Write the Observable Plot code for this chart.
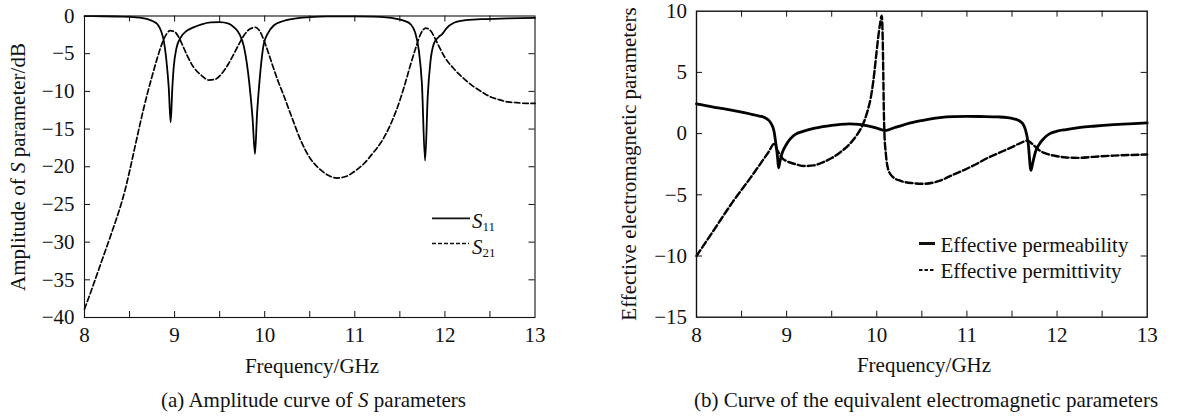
<!DOCTYPE html>
<html><head><meta charset="utf-8">
<script src="https://cdn.jsdelivr.net/npm/d3@7"></script>
<script src="https://cdn.jsdelivr.net/npm/@observablehq/plot@0.6"></script>
<style>
body{margin:0;background:#fff;}
#wrap{position:relative;width:1178px;height:416px;overflow:hidden;background:#fff;font-family:"Liberation Serif","Times New Roman",serif;}
#left,#right{position:absolute;top:0;}
#left{left:0;} #right{left:589px;}
#overlay{position:absolute;left:0;top:0;pointer-events:none;}
#overlay text{font-family:"Liberation Serif","Times New Roman",serif;font-size:21px;fill:#111;}
</style></head><body>
<div id="wrap"><div id="left"></div><div id="right"></div>
<svg id="overlay" width="1178" height="416">
  <text transform="translate(24.5,167) rotate(-90)" text-anchor="middle">Amplitude of <tspan font-style="italic">S</tspan> parameter/dB</text>
  <text x="312" y="373" text-anchor="middle">Frequency/GHz</text>
  <text x="313.5" y="407" text-anchor="middle">(a) Amplitude curve of <tspan font-style="italic">S</tspan> parameters</text>
  <line x1="432" x2="470" y1="218.3" y2="218.3" stroke="#111" stroke-width="1.8"/>
  <text x="472" y="228"><tspan font-style="italic">S</tspan><tspan font-size="13" dy="3">11</tspan></text>
  <line x1="432" x2="469" y1="243.5" y2="243.5" stroke="#111" stroke-width="1.7" stroke-dasharray="4,2"/>
  <text x="472" y="253.5"><tspan font-style="italic">S</tspan><tspan font-size="13" dy="3">21</tspan></text>

  <text transform="translate(636,164) rotate(-90)" text-anchor="middle">Effective electromagnetic parameters</text>
  <text x="924" y="372" text-anchor="middle">Frequency/GHz</text>
  <text x="926" y="407" text-anchor="middle">(b) Curve of the equivalent electromagnetic parameters</text>
  <line x1="919" x2="935" y1="243.5" y2="243.5" stroke="#111" stroke-width="3"/>
  <text x="940.5" y="252.3">Effective permeability</text>
  <line x1="919" x2="935" y1="270" y2="270" stroke="#111" stroke-width="2.2" stroke-dasharray="3.5,2"/>
  <text x="940.5" y="278.3">Effective permittivity</text>
</svg></div>
<script>
// ---- data (a): S parameters, dB vs GHz ----
const s11Freq = [8.0,8.2,8.4,8.55,8.7,8.76,8.81,8.85,8.88,8.91,8.935,8.956,8.975,8.99,9.02,9.07,9.13,9.21,9.3,9.4,9.5,9.6,9.66,9.72,9.77,9.83,9.865,9.892,9.915,9.94,9.99,10.04,10.1,10.2,10.3,10.5,10.7,11.0,11.2,11.35,11.45,11.55,11.62,11.67,11.71,11.745,11.78,11.81,11.84,11.88,11.93,11.97,12.02,12.1,12.2,12.4,12.7,13.0];
const s11Db   = [-0.02,-0.03,-0.07,-0.15,-0.4,-0.7,-1.1,-2.0,-3.3,-6.0,-9.5,-14.1,-9.5,-6.8,-4.3,-2.8,-2.0,-1.5,-1.1,-0.85,-0.8,-1.0,-1.5,-2.4,-4.1,-9.0,-13.5,-18.3,-13,-9.0,-3.7,-2.2,-1.26,-0.7,-0.4,-0.15,-0.06,-0.05,-0.08,-0.18,-0.35,-0.65,-1.1,-2.2,-4.5,-9.0,-19.2,-10.5,-6.0,-3.6,-2.8,-2.4,-1.6,-0.9,-0.6,-0.42,-0.32,-0.25];
const s21Freq = [8.0,8.1,8.2,8.3,8.4,8.45,8.5,8.55,8.6,8.65,8.7,8.75,8.8,8.85,8.9,8.95,9.0,9.05,9.1,9.15,9.2,9.3,9.38,9.45,9.52,9.6,9.66,9.72,9.78,9.84,9.9,9.95,10.0,10.05,10.1,10.15,10.2,10.3,10.4,10.5,10.6,10.7,10.8,10.9,11.0,11.1,11.2,11.3,11.4,11.5,11.57,11.62,11.68,11.73,11.79,11.85,11.9,11.95,12.0,12.1,12.2,12.3,12.4,12.5,12.6,12.7,12.8,12.9,13.0];
const s21Db   = [-38.9,-35.6,-32.2,-28.8,-25.2,-23.1,-20.6,-17.9,-15.2,-12.6,-10.2,-8.0,-5.9,-4.0,-2.6,-1.95,-2.1,-2.9,-4.2,-5.5,-6.6,-7.9,-8.5,-8.4,-7.7,-6.3,-5.0,-3.6,-2.4,-1.7,-1.5,-2.1,-3.5,-5.2,-7.0,-8.7,-10.2,-13.4,-16.5,-18.8,-20.2,-21.1,-21.5,-21.3,-20.6,-19.6,-18.2,-16.6,-14.3,-11.2,-8.5,-6.4,-4.1,-2.4,-1.6,-2.1,-3.2,-4.4,-5.5,-7.0,-8.2,-9.2,-10.0,-10.7,-11.1,-11.4,-11.5,-11.6,-11.6];

// ---- data (b): effective parameters vs GHz ----
const muFreq  = [8.0,8.2,8.4,8.5,8.6,8.7,8.76,8.8,8.83,8.86,8.88,8.9,8.91,8.925,8.95,9.0,9.04,9.1,9.2,9.3,9.4,9.5,9.6,9.7,9.8,9.9,10.0,10.09,10.2,10.3,10.4,10.5,10.6,10.7,10.85,11.0,11.2,11.35,11.45,11.52,11.58,11.62,11.65,11.68,11.71,11.73,11.76,11.8,11.86,11.92,12.0,12.1,12.26,12.4,12.63,12.8,13.0];
const muVal   = [2.43,2.15,1.9,1.76,1.6,1.43,1.3,1.1,0.8,0.2,-0.8,-2.0,-2.8,-2.3,-1.6,-0.85,-0.43,-0.05,0.22,0.42,0.57,0.68,0.76,0.8,0.76,0.63,0.45,0.25,0.5,0.72,0.92,1.07,1.2,1.3,1.38,1.4,1.39,1.36,1.3,1.2,1.05,0.8,0.3,-0.8,-3.0,-2.4,-1.5,-0.9,-0.35,0.0,0.2,0.33,0.5,0.6,0.73,0.8,0.87];
const epsFreq = [8.0,8.2,8.4,8.6,8.71,8.8,8.86,8.9,8.95,9.0,9.1,9.2,9.3,9.4,9.5,9.6,9.7,9.78,9.83,9.87,9.9,9.93,9.96,9.985,10.01,10.035,10.055,10.065,10.072,10.078,10.085,10.1,10.13,10.18,10.26,10.4,10.52,10.7,10.85,10.96,11.1,11.2,11.33,11.5,11.6,11.67,11.74,11.8,11.89,12.0,12.1,12.26,12.4,12.63,12.8,13.0];
const epsVal  = [-10.0,-7.8,-5.6,-3.6,-2.45,-1.5,-0.85,-1.4,-2.0,-2.25,-2.5,-2.65,-2.6,-2.35,-2.0,-1.5,-0.85,-0.1,0.5,1.2,1.9,2.8,4.2,5.8,7.5,8.9,9.64,8.0,5.0,2.0,0.0,-1.6,-3.0,-3.55,-3.85,-4.05,-4.1,-3.85,-3.35,-3.0,-2.5,-2.1,-1.66,-1.1,-0.75,-0.57,-0.95,-1.35,-1.66,-1.85,-1.95,-1.98,-1.9,-1.8,-1.75,-1.71];

// ---- ticks ----
const xTickLabels = [8,9,10,11,12,13];
const xMinorTicks = [8.5,9,9.5,10,10.5,11,11.5,12,12.5];
const yTicksA = [0,-5,-10,-15,-20,-25,-30,-35,-40];
const yMinorA = [-5,-10,-15,-20,-25,-30,-35];
const yTicksB = [10,5,0,-5,-10,-15];
const yMinorB = [5,0,-5,-10];

const zip = (f, v) => f.map((x, i) => ({f: x, v: v[i]}));
const fmt = d => d < 0 ? "\u2212" + (-d) : String(d);

function chart({series, yDomain, yTicks, yMinor, marginLeft, marginRight, marginTop, marginBottom, height, frameW, tickPadY}) {
  const width = 589;
  const ih = height - marginTop - marginBottom;
  const iw = width - marginLeft - marginRight;
  const tl = 6;
  const stroke = "#111";
  return Plot.plot({
    width, height, marginLeft, marginRight, marginTop, marginBottom,
    style: {fontFamily: "Liberation Serif, Times New Roman, serif", fontSize: "21px", color: "#111", background: "white", overflow: "visible"},
    x: {domain: [8, 13], label: null},
    y: {domain: yDomain, label: null},
    marks: [
      ...series.map(s => Plot.line(s.data, {x: "f", y: "v", stroke: "#000", strokeWidth: s.w, strokeDasharray: s.dash, curve: "monotone-x"})),
      Plot.tickX(xMinorTicks, {x: d => d, insetTop: ih - tl, stroke, strokeWidth: 1}),
      Plot.tickX(xMinorTicks, {x: d => d, insetBottom: ih - tl, stroke, strokeWidth: 1}),
      Plot.tickY(yMinor, {y: d => d, insetLeft: iw - tl, stroke, strokeWidth: 1}),
      Plot.tickY(yMinor, {y: d => d, insetRight: iw - tl, stroke, strokeWidth: 1}),
      Plot.frame({stroke, strokeWidth: frameW}),
      Plot.axisX(xTickLabels, {anchor: "bottom", tickSize: 0, tickPadding: 10, fontSize: 21, tickFormat: fmt}),
      Plot.axisY(yTicks, {anchor: "left", tickSize: 0, tickPadding: tickPadY, fontSize: 21, tickFormat: fmt})
    ]
  });
}

document.getElementById("left").appendChild(chart({
  series: [
    {data: zip(s11Freq, s11Db), w: 1.8, dash: null},
    {data: zip(s21Freq, s21Db), w: 1.7, dash: "5.5,2.8"}
  ],
  yDomain: [-40, 0], yTicks: yTicksA, yMinor: yMinorA,
  marginLeft: 84, marginRight: 54.5, marginTop: 15.5, marginBottom: 28, height: 345, frameW: 1.1, tickPadY: 10
}));

document.getElementById("right").appendChild(chart({
  series: [
    {data: zip(muFreq, muVal), w: 2.8, dash: null},
    {data: zip(epsFreq, epsVal), w: 2.4, dash: "7,3"}
  ],
  yDomain: [-15, 10], yTicks: yTicksB, yMinor: yMinorB,
  marginLeft: 107, marginRight: 31.3, marginTop: 10.7, marginBottom: 28.3, height: 345, frameW: 1.4, tickPadY: 9.5
}));
</script>
</body></html>
